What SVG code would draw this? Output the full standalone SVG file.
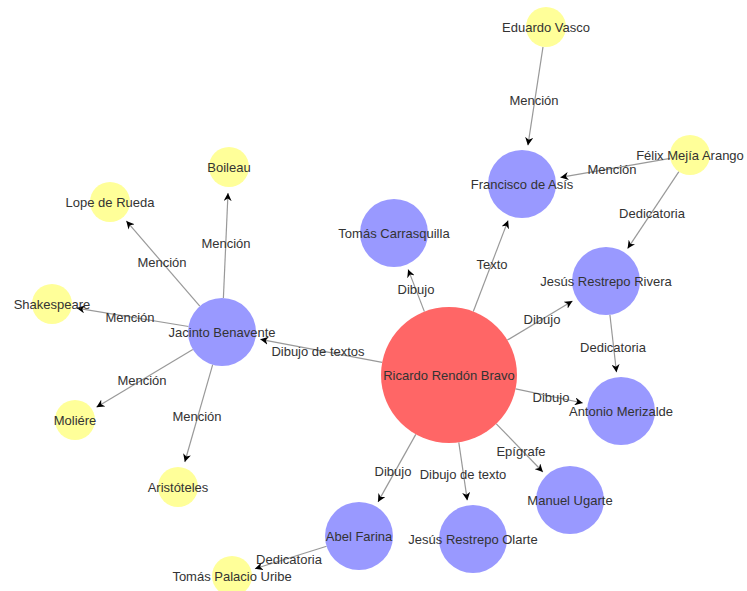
<svg xmlns="http://www.w3.org/2000/svg" width="747" height="591" viewBox="0 0 747 591">
<style>
.e{stroke:#999;stroke-width:1.2;fill:none;marker-end:url(#arr)}
.t{font-family:"Liberation Sans",Arial,sans-serif;font-size:13px;fill:#333;text-anchor:middle}
.red{fill:#FF6666}
.blue{fill:#9999FF}
.yel{fill:#FFFF99}
</style>
<defs>
<marker id="arr" viewBox="0 0 10 10" refX="10" refY="5" markerWidth="8" markerHeight="8" markerUnits="userSpaceOnUse" orient="auto">
<path d="M0,0 L10,5 L0,10 L3,5 Z" fill="#000"/>
</marker>
</defs>
<rect width="747" height="591" fill="#fff"/>
<g id="connectors">
<line class="e" x1="543" y1="46.8" x2="527.9" y2="145.4"/>
<line class="e" x1="670.3" y1="158.4" x2="560.4" y2="177.4"/>
<line class="e" x1="678.9" y1="171.6" x2="627.6" y2="248.6"/>
<line class="e" x1="473.3" y1="311.5" x2="508.1" y2="220.4"/>
<line class="e" x1="424.4" y1="311.6" x2="408.1" y2="269.4"/>
<line class="e" x1="507.3" y1="340.1" x2="572.5" y2="301"/>
<line class="e" x1="609.9" y1="314.8" x2="616.5" y2="372.3"/>
<line class="e" x1="515.6" y1="388.9" x2="582.8" y2="403"/>
<line class="e" x1="496.3" y1="423.8" x2="542.9" y2="472"/>
<line class="e" x1="458.8" y1="442.3" x2="467.3" y2="500.4"/>
<line class="e" x1="415.8" y1="434.4" x2="378" y2="501.9"/>
<line class="e" x1="326.6" y1="546.2" x2="254.9" y2="568.8"/>
<line class="e" x1="382.2" y1="362.3" x2="260.3" y2="339.3"/>
<line class="e" x1="223.4" y1="298" x2="228" y2="193"/>
<line class="e" x1="199.8" y1="306.2" x2="126.3" y2="220.9"/>
<line class="e" x1="188.5" y1="326.5" x2="76.7" y2="308.1"/>
<line class="e" x1="192.8" y1="349.5" x2="96.4" y2="407.2"/>
<line class="e" x1="212.7" y1="364.7" x2="184.8" y2="462"/>
<g class="t">
<text x="534" y="104.5">Mención</text>
<text x="612" y="173.5">Mención</text>
<text x="652" y="217.5">Dedicatoria</text>
<text x="492" y="268.5">Texto</text>
<text x="416" y="293.5">Dibujo</text>
<text x="542" y="323.5">Dibujo</text>
<text x="613" y="351.5">Dedicatoria</text>
<text x="551" y="401.5">Dibujo</text>
<text x="521" y="455.5">Epígrafe</text>
<text x="463" y="478.5">Dibujo de texto</text>
<text x="393" y="475.5">Dibujo</text>
<text x="289" y="563.5">Dedicatoria</text>
<text x="318" y="355.5">Dibujo de textos</text>
<text x="226" y="247.5">Mención</text>
<text x="162" y="266.5">Mención</text>
<text x="130" y="321.5">Mención</text>
<text x="142" y="384.5">Mención</text>
<text x="197" y="420.5">Mención</text>
</g>
</g>
<g id="ricardo"><circle class="red" cx="449" cy="375" r="68"/><text class="t" x="449" y="379.5">Ricardo Rendón Bravo</text></g>
<g id="jacinto"><circle class="blue" cx="222" cy="332" r="34"/><text class="t" x="222" y="336.5">Jacinto Benavente</text></g>
<g id="carrasquilla"><circle class="blue" cx="394" cy="233" r="34"/><text class="t" x="394" y="237.5">Tomás Carrasquilla</text></g>
<g id="francisco"><circle class="blue" cx="522" cy="184" r="34"/><text class="t" x="522" y="188.5">Francisco de Asís</text></g>
<g id="rivera"><circle class="blue" cx="606" cy="281" r="34"/><text class="t" x="606" y="285.5">Jesús Restrepo Rivera</text></g>
<g id="merizalde"><circle class="blue" cx="621" cy="411" r="34"/><text class="t" x="621" y="415.5">Antonio Merizalde</text></g>
<g id="ugarte"><circle class="blue" cx="570" cy="500" r="34"/><text class="t" x="570" y="504.5">Manuel Ugarte</text></g>
<g id="olarte"><circle class="blue" cx="473" cy="539" r="34"/><text class="t" x="473" y="543.5">Jesús Restrepo Olarte</text></g>
<g id="farina"><circle class="blue" cx="359" cy="536" r="34"/><text class="t" x="359" y="540.5">Abel Farina</text></g>
<g id="vasco"><circle class="yel" cx="546" cy="27" r="20"/><text class="t" x="546" y="31.5">Eduardo Vasco</text></g>
<g id="felix"><circle class="yel" cx="690" cy="155" r="20"/><text class="t" x="690" y="159.5">Félix Mejía Arango</text></g>
<g id="boileau"><circle class="yel" cx="229" cy="167" r="20"/><text class="t" x="229" y="171.5">Boileau</text></g>
<g id="lope"><circle class="yel" cx="110" cy="202" r="20"/><text class="t" x="110" y="206.5">Lope de Rueda</text></g>
<g id="shakespeare"><circle class="yel" cx="52" cy="304" r="20"/><text class="t" x="52" y="308.5">Shakespeare</text></g>
<g id="moliere"><circle class="yel" cx="75" cy="420" r="20"/><text class="t" x="75" y="424.5">Moliére</text></g>
<g id="aristoteles"><circle class="yel" cx="178" cy="487" r="20"/><text class="t" x="178" y="491.5">Aristóteles</text></g>
<g id="palacio"><circle class="yel" cx="232" cy="576" r="20"/><text class="t" x="232" y="580.5">Tomás Palacio Uribe</text></g>
</svg>
